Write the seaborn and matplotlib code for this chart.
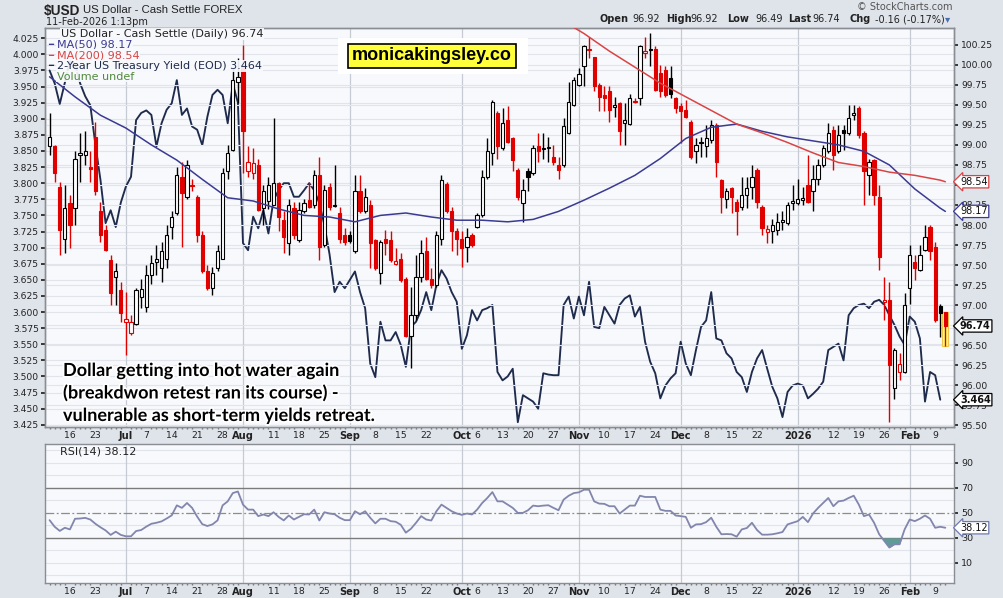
import numpy as np
import pandas as pd
import matplotlib
matplotlib.use("Agg")
import matplotlib.pyplot as plt
import matplotlib.transforms as mtrans
import matplotlib.patheffects as pe
from matplotlib.patches import Rectangle
from matplotlib.ticker import FixedLocator, FormatStrFormatter
import seaborn as sns

# daily bars of $USD (cash settle), 10-Jun-2025 .. 11-Feb-2026
dates = pd.bdate_range("2025-06-10", "2026-02-11")

usd_open = [
    98.98, 98.98, 98.48, 97.83, 98.27, 98.21, 98.88, 98.88, 98.72, 99.10,
    98.17, 97.94, 97.56, 97.35, 97.19, 96.79, 96.65, 96.77, 97.10, 96.98,
    97.38, 97.54, 97.46, 97.58, 97.98, 98.15, 98.60, 98.35, 98.50, 98.35,
    97.88, 97.42, 97.21, 97.46, 97.58, 98.67, 98.94, 99.79, 100.00, 98.67,
    98.65, 98.75, 98.21, 98.30, 98.25, 98.52, 98.06, 97.77, 98.21, 97.81,
    98.17, 98.31, 98.25, 98.62, 97.75, 98.48, 98.24, 98.15, 97.88, 97.88,
    97.67, 98.42, 98.17, 98.25, 97.81, 97.40, 97.83, 97.81, 97.51, 97.58,
    97.33, 96.62, 96.88, 97.35, 97.67, 97.33, 97.25, 97.83, 98.51, 98.17,
    97.92, 97.83, 97.73, 97.88, 97.98, 98.13, 98.60, 98.90, 99.40, 98.96,
    99.31, 99.08, 98.69, 98.27, 98.67, 98.65, 98.98, 98.95, 98.96, 98.85,
    98.75, 98.75, 99.15, 99.50, 99.75, 99.98, 100.18, 100.10, 99.75, 99.62,
    99.67, 99.47, 99.52, 99.27, 99.26, 99.55, 99.58, 100.15, 100.19, 100.20,
    99.90, 99.94, 99.83, 99.58, 99.48, 99.44, 99.29, 98.92, 99.04, 98.98,
    99.06, 99.25, 98.56, 98.33, 98.46, 98.29, 98.23, 98.375, 98.48, 98.69,
    98.23, 97.91, 97.92, 97.94, 98.04, 98.02, 98.27, 98.27, 98.31, 98.50,
    98.42, 98.58, 98.75, 98.92, 99.19, 98.92, 99.19, 99.15, 99.37, 99.46,
    99.15, 98.62, 98.81, 98.35, 97.04, 97.06, 95.96, 96.17, 96.17, 97.21,
    97.54, 97.44, 97.69, 97.98, 97.73, 96.99, 96.92,
]
usd_high = [
    99.40, 99.00, 98.54, 98.50, 98.37, 98.92, 99.15, 99.17, 98.92, 99.29,
    98.29, 98.00, 97.62, 97.52, 97.29, 97.17, 96.88, 97.21, 97.33, 97.50,
    97.62, 97.75, 97.79, 98.00, 98.17, 98.73, 98.79, 98.81, 98.58, 98.37,
    97.92, 97.50, 97.48, 97.75, 98.71, 99.00, 99.96, 100.08, 100.25, 98.98,
    98.96, 98.83, 98.50, 98.60, 99.33, 98.54, 98.17, 98.33, 98.29, 98.29,
    98.33, 98.54, 98.69, 98.85, 98.50, 98.52, 98.75, 98.23, 97.96, 97.92,
    98.62, 98.62, 98.46, 98.31, 97.83, 97.81, 97.94, 97.92, 97.71, 97.65,
    97.35, 97.23, 97.62, 97.81, 97.85, 97.46, 97.92, 98.62, 98.54, 98.23,
    97.96, 97.92, 97.96, 97.90, 98.15, 98.69, 99.08, 99.56, 99.42, 99.46,
    99.48, 99.10, 98.71, 98.58, 98.71, 99.00, 99.15, 99.15, 99.10, 99.00,
    98.85, 99.33, 99.79, 99.85, 99.96, 100.25, 100.35, 100.10, 99.77, 99.73,
    99.73, 99.60, 99.54, 99.52, 99.63, 99.58, 100.25, 100.35, 100.40, 100.23,
    100.00, 99.98, 99.98, 99.60, 99.52, 99.56, 99.31, 99.08, 99.10, 99.25,
    99.31, 99.27, 98.58, 98.46, 98.48, 98.33, 98.60, 98.60, 98.75, 98.71,
    98.25, 98.00, 98.08, 98.15, 98.17, 98.29, 98.50, 98.58, 98.48, 98.88,
    98.75, 98.83, 99.00, 99.27, 99.23, 99.25, 99.25, 99.50, 99.50, 99.48,
    99.17, 98.83, 98.83, 98.50, 97.35, 97.29, 96.46, 96.40, 97.15, 97.75,
    97.62, 97.75, 98.00, 98.00, 97.79, 97.02, 96.92,
]
usd_low = [
    98.88, 98.54, 97.62, 97.65, 97.71, 98.00, 98.54, 98.75, 98.54, 98.37,
    97.79, 97.67, 97.00, 97.00, 96.79, 96.38, 96.63, 96.75, 96.96, 96.92,
    97.27, 97.38, 97.29, 97.46, 97.83, 98.12, 97.73, 98.33, 98.42, 97.79,
    97.40, 97.19, 97.13, 97.42, 97.58, 98.58, 98.92, 99.52, 98.65, 98.60,
    98.58, 98.17, 98.00, 98.20, 98.25, 97.92, 97.65, 97.62, 97.83, 97.79,
    98.15, 98.21, 98.21, 97.56, 97.73, 98.19, 98.23, 97.77, 97.75, 97.77,
    97.65, 98.15, 98.15, 97.46, 97.44, 97.27, 97.62, 97.54, 97.50, 97.29,
    96.60, 96.21, 96.81, 97.29, 97.31, 97.21, 97.23, 97.75, 98.15, 97.67,
    97.62, 97.48, 97.54, 97.73, 97.96, 98.10, 98.58, 98.75, 98.83, 98.94,
    99.02, 98.67, 98.31, 98.04, 98.42, 98.62, 98.79, 98.83, 98.79, 98.75,
    98.58, 98.73, 99.13, 99.48, 99.73, 99.73, 100.08, 99.67, 99.42, 99.42,
    99.29, 99.35, 99.00, 99.00, 99.25, 99.52, 99.50, 100.08, 99.98, 99.67,
    99.60, 99.60, 99.58, 99.40, 99.02, 99.33, 98.83, 98.77, 98.85, 98.85,
    99.02, 98.60, 98.15, 98.21, 98.15, 97.88, 98.19, 98.21, 98.33, 98.21,
    97.88, 97.77, 97.77, 97.87, 97.94, 98.00, 98.19, 98.25, 98.25, 98.27,
    98.17, 98.50, 98.73, 98.90, 98.69, 98.90, 98.94, 99.12, 99.31, 99.08,
    98.25, 98.37, 98.25, 97.44, 96.81, 95.54, 95.83, 96.06, 96.15, 97.02,
    97.31, 97.42, 97.67, 97.56, 96.79, 96.60, 96.49,
]
usd_close = [
    99.10, 98.65, 97.94, 98.21, 98.00, 98.83, 98.90, 98.92, 98.70, 98.42,
    97.87, 97.69, 97.15, 97.42, 96.90, 96.83, 96.79, 97.19, 97.20, 97.38,
    97.52, 97.57, 97.67, 97.88, 98.10, 98.62, 98.40, 98.75, 98.49, 97.88,
    97.42, 97.21, 97.40, 97.67, 98.65, 98.90, 99.81, 99.85, 99.17, 98.79,
    98.78, 98.19, 98.42, 98.50, 98.52, 98.10, 97.85, 98.25, 97.88, 98.19,
    98.27, 98.23, 98.62, 97.73, 98.44, 98.23, 98.25, 97.83, 97.79, 97.80,
    98.42, 98.17, 98.35, 97.77, 97.46, 97.79, 97.78, 97.56, 97.55, 97.31,
    96.62, 96.88, 97.35, 97.65, 97.33, 97.25, 97.88, 98.56, 98.17, 97.92,
    97.83, 97.71, 97.85, 97.75, 98.13, 98.60, 98.92, 99.54, 98.98, 99.27,
    99.04, 98.81, 98.35, 98.44, 98.60, 98.96, 98.92, 98.96, 98.97, 98.79,
    98.69, 99.23, 99.54, 99.81, 99.88, 100.23, 100.20, 99.73, 99.60, 99.58,
    99.44, 99.50, 99.17, 99.31, 99.58, 99.54, 100.23, 100.17, 100.18, 99.69,
    99.67, 99.62, 99.64, 99.46, 99.42, 99.35, 98.85, 99.00, 99.02, 99.08,
    99.25, 98.79, 98.35, 98.42, 98.35, 98.17, 98.375, 98.46, 98.60, 98.29,
    97.96, 97.95, 98.00, 98.04, 98.06, 98.25, 98.30, 98.33, 98.34, 98.29,
    98.58, 98.75, 98.96, 99.15, 98.88, 99.12, 99.15, 99.33, 99.40, 99.12,
    98.67, 98.79, 98.37, 97.60, 97.06, 96.25, 96.44, 96.27, 97.00, 97.62,
    97.46, 97.62, 97.85, 97.67, 96.81, 96.90, 96.74,
]
# 2-year treasury yield (EOD), no print yet for the last session
yield_2y = [
    3.975, 3.955, 3.923, 3.956, 3.990, 3.985, 3.955, 3.935, 3.921, 3.860,
    3.805, 3.738, 3.758, 3.732, 3.770, 3.795, 3.810, 3.898, 3.909, 3.913,
    3.906, 3.857, 3.893, 3.914, 3.924, 3.960, 3.906, 3.916, 3.888, 3.883,
    3.859, 3.903, 3.937, 3.945, 3.937, 3.893, 3.955, 3.925, 3.707, 3.696,
    3.748, 3.730, 3.758, 3.722, 3.774, 3.789, 3.800, 3.800, 3.779, 3.779,
    3.789, 3.800, 3.789, 3.769, 3.735, 3.690, 3.631, 3.647, 3.637, 3.650,
    3.663, 3.631, 3.606, 3.520, 3.499, 3.585, 3.556, 3.556, 3.569, 3.549,
    3.515, 3.577, 3.585, 3.603, 3.631, 3.603, 3.642, 3.665, 3.652, 3.631,
    3.616, 3.543, 3.564, 3.603, 3.587, 3.603, 3.606, 3.611, 3.507, 3.494,
    3.500, 3.512, 3.429, 3.471, 3.466, 3.461, 3.450, 3.505, 3.503, 3.502,
    3.502, 3.611, 3.624, 3.590, 3.624, 3.595, 3.647, 3.577, 3.575, 3.608,
    3.595, 3.582, 3.611, 3.621, 3.626, 3.593, 3.608, 3.554, 3.523, 3.505,
    3.466, 3.486, 3.497, 3.505, 3.554, 3.520, 3.502, 3.541, 3.577, 3.587,
    3.631, 3.559, 3.556, 3.536, 3.528, 3.507, 3.499, 3.476, 3.507, 3.528,
    3.541, 3.512, 3.484, 3.466, 3.437, 3.476, 3.486, 3.489, 3.486, 3.466,
    3.473, 3.481, 3.492, 3.541, 3.546, 3.551, 3.525, 3.595, 3.606, 3.611,
    3.613, 3.606, 3.616, 3.619, 3.611, 3.595, 3.580, 3.562, 3.549, 3.593,
    3.585, 3.559, 3.461, 3.507, 3.502, 3.464, np.nan,
]
# moving averages read once a week (every 5th bar) plus the last bar
ma50 = [
    99.85, 99.60, 99.37, 99.21, 99.00, 98.81, 98.57, 98.34, 98.30, 98.20,
    98.12, 98.10, 98.04, 98.12, 98.15, 98.10, 98.06, 98.06, 98.04, 98.07,
    98.17, 98.31, 98.46, 98.62, 98.83, 99.08, 99.22, 99.26, 99.17, 99.10,
    99.05, 99.00, 98.92, 98.75, 98.45, 98.21, 98.17,
]
ma200 = [
    np.nan, np.nan, np.nan, np.nan, np.nan, np.nan, np.nan, np.nan, np.nan, np.nan,
    np.nan, np.nan, np.nan, np.nan, np.nan, np.nan, np.nan, np.nan, np.nan, 100.78,
    100.58, 100.39, 100.17, 99.97, 99.77, 99.60, 99.43, 99.26, 99.15, 99.03,
    98.90, 98.78, 98.73, 98.66, 98.62, 98.56, 98.54,
]
rsi14 = [
    44.2, 38.9, 35.6, 38.1, 36.8, 45.3, 45.5, 46.0, 44.7, 41.3,
    38.5, 36.0, 32.4, 35.0, 32.4, 31.3, 31.3, 35.5, 36.3, 39.0,
    41.3, 42.1, 43.2, 45.5, 48.0, 56.0, 54.0, 57.9, 54.0, 47.0,
    41.0, 39.5, 40.8, 44.0, 56.0, 59.2, 65.8, 67.1, 56.6, 52.6,
    52.6, 47.4, 48.7, 47.4, 50.5, 46.8, 44.0, 47.9, 44.7, 46.8,
    48.9, 48.7, 52.6, 43.9, 50.5, 49.5, 48.9, 46.1, 44.2, 44.2,
    51.3, 48.9, 51.3, 46.1, 41.6, 45.3, 45.3, 43.4, 42.9, 40.5,
    34.2, 37.3, 42.1, 47.4, 44.7, 43.9, 51.3, 56.6, 54.0, 51.3,
    49.5, 48.4, 49.5, 48.7, 52.6, 57.9, 61.9, 66.6, 59.2, 59.2,
    56.6, 54.0, 50.0, 50.0, 52.1, 55.8, 55.3, 55.8, 56.1, 54.0,
    52.1, 60.6, 63.7, 65.8, 66.4, 68.5, 68.5, 59.2, 57.4, 57.2,
    55.3, 55.3, 49.5, 52.6, 55.8, 55.8, 63.7, 62.7, 62.7, 62.7,
    52.6, 51.6, 51.6, 47.9, 47.4, 46.8, 38.1, 40.8, 41.0, 42.6,
    46.1, 38.9, 32.9, 33.1, 32.9, 31.0, 36.8, 37.9, 42.1, 36.3,
    32.6, 32.6, 32.9, 33.7, 34.7, 40.8, 42.1, 43.4, 46.8, 42.6,
    49.5, 54.0, 57.9, 61.9, 55.3, 59.2, 59.8, 61.9, 63.7, 56.6,
    47.4, 48.7, 42.1, 32.9, 27.6, 22.3, 24.9, 24.9, 36.8, 44.7,
    43.4, 45.3, 47.9, 45.3, 38.1, 38.9, 38.12,
]

n = len(dates)
for arr in (usd_open, usd_high, usd_low, usd_close, yield_2y, rsi14):
    assert len(arr) == n, len(arr)

xi = np.arange(n)
o = np.array(usd_open)
hi = np.array(usd_high)
lo = np.array(usd_low)
c = np.array(usd_close)
y2 = np.array(yield_2y, dtype=float)
rsi = np.array(rsi14)
ma_x = np.r_[xi[::5], xi[-1]]
last_yield = y2[~np.isnan(y2)][-1]

prev = np.r_[o[0], c[:-1]]
edge = np.where(c >= prev, "#000000", "#e00000")
body = np.where(c > o, "#ffffff", edge)

NAVY = "#1f2b4d"
MA50_C = "#3a3a92"
MA200_C = "#d94444"
GRID = "#e1e4ea"
MONTH_GRID = "#c6cad3"
PANEL = "#f8f9fc"
SPINE = "#8a8d94"
TXT = "#222222"

W, H = 1004, 598
def fx(px):
    return px / W
def fy(py):
    return 1 - py / H

sns.set_theme(style="white")
plt.rcParams["font.family"] = ["DejaVu Sans"]

fig = plt.figure(figsize=(W / 100, H / 100), dpi=100, facecolor="#dfe3ea")
ax = fig.add_axes([fx(45), fy(427), 909 / W, (427 - 28) / H])
axd = ax.twinx()
axr = fig.add_axes([fx(45), fy(583), 909 / W, (583 - 444) / H])
ax.set_facecolor(PANEL)
axr.set_facecolor(PANEL)

# month starts and weekly (Monday) labels
month_first = [k for k in range(1, n) if dates[k].month != dates[k - 1].month]
mondays = [k for k in range(n) if dates[k].weekday() == 0
           and all(not (-3 <= k - m <= 2) for m in month_first)]
tick_pos = sorted(month_first + mondays)
tick_lab, tick_bold = [], []
for k in tick_pos:
    if k in month_first:
        tick_lab.append(str(dates[k].year) if dates[k].month == 1 else dates[k].strftime("%b"))
        tick_bold.append(True)
    else:
        tick_lab.append(str(dates[k].day))
        tick_bold.append(False)

# ---- main panel: yield (left scale) ----
for k in month_first:
    ax.axvline(k, color=MONTH_GRID, lw=0.9, zorder=0.6)
ax.grid(axis="y", color=GRID, lw=0.8)
ax.set_axisbelow(True)
sns.lineplot(x=xi, y=y2, ax=ax, color=NAVY, lw=1.35, zorder=3)
ax.set_ylim(3.4216, 4.0409)
ax.yaxis.set_major_locator(FixedLocator(np.round(np.arange(3.425, 4.0251, 0.025), 3)))
ax.yaxis.set_major_formatter(FormatStrFormatter("%.3f"))
ax.tick_params(axis="y", labelsize=6.6, length=3, pad=1.5, colors=TXT, left=True)
ax.set_ylabel("")

# ---- main panel: dollar candles (right scale) ----
axd.grid(axis="y", color=GRID, lw=0.8)
axd.set_axisbelow(True)
axd.bar(xi[-1], hi[-1] - lo[-1], bottom=lo[-1], width=1.15, color="#ffff70",
        edgecolor="#f0c64a", lw=0.8, zorder=1.5)
axd.vlines(xi, lo, hi, colors=edge, lw=1.0, zorder=2)
axd.bar(xi, np.maximum(np.abs(c - o), 0.012), bottom=np.minimum(o, c), width=0.64,
        color=body, edgecolor=edge, lw=0.8, zorder=3)
sns.lineplot(x=ma_x, y=ma50, ax=axd, color=MA50_C, lw=1.1, zorder=4)
sns.lineplot(x=ma_x, y=ma200, ax=axd, color=MA200_C, lw=1.1, zorder=4)
axd.set_ylim(95.479, 100.459)
axd.yaxis.set_major_locator(FixedLocator(np.round(np.arange(95.5, 100.26, 0.25), 2)))
axd.yaxis.set_major_formatter(FormatStrFormatter("%.2f"))
axd.tick_params(axis="y", labelsize=6.6, length=3, pad=2, colors=TXT, right=True)
axd.set_ylabel("")

# ---- RSI panel ----
for v in range(0, 101, 10):
    if v not in (30, 50, 70):
        axr.axhline(v, color=GRID, lw=0.8, zorder=0.5)
for k in month_first:
    axr.axvline(k, color=MONTH_GRID, lw=0.9, zorder=0.6)
axr.axhline(70, color="#7b7b7b", lw=1.0, zorder=1)
axr.axhline(30, color="#7b7b7b", lw=1.0, zorder=1)
axr.axhline(50, color="#8c8c8c", lw=0.9, ls=(0, (7, 2, 1.5, 2)), zorder=1)
axr.fill_between(xi, rsi, 30, where=rsi < 30, interpolate=True, color="#5d9c98", lw=0, zorder=2)
sns.lineplot(x=xi, y=rsi, ax=axr, color="#8286ad", lw=1.3, zorder=3)
axr.set_ylim(-6, 105)
axr.yaxis.tick_right()
axr.set_yticks([10, 30, 50, 70, 90])
axr.tick_params(axis="y", labelsize=6.8, length=3, pad=2, colors=TXT)
axr.set_ylabel("")

for a in (ax, axr):
    a.set_xlim(-0.9, 177.7)
    a.set_xticks(tick_pos)
    a.set_xticklabels(tick_lab)
    a.set_xticks(xi, minor=True)
    a.tick_params(axis="x", which="major", length=2, pad=1, labelsize=6.7, colors=TXT)
    a.tick_params(axis="x", which="minor", length=1.5, color="#777777", bottom=True)
    for t, bold in zip(a.get_xticklabels(), tick_bold):
        if bold:
            t.set_fontweight("bold")
            t.set_fontsize(7.1)
    a.set_xlabel("")
for a in (ax, axd, axr):
    for s in a.spines.values():
        s.set_color(SPINE)
        s.set_linewidth(1.0)

# ---- texts ----
def T(px, py, s, **kw):
    kw.setdefault("va", "center")
    kw.setdefault("ha", "left")
    kw.setdefault("color", TXT)
    return fig.text(fx(px), fy(py), s, **kw)

T(44, 10.5, "$USD", fontsize=9.8, fontweight="bold", family=["Liberation Sans", "DejaVu Sans"])
T(83, 10, "US Dollar - Cash Settle FOREX", fontsize=8.2, family=["Liberation Sans", "DejaVu Sans"])
T(46, 22, "11-Feb-2026 1:13pm", fontsize=7)
T(953, 6.5, "\u00a9 StockCharts.com", fontsize=7, color="#555555", ha="right")

chg = c[-1] - c[-2]
pct = chg / c[-2] * 100
hdr = [(600, "Open", True), (632.5, f"{o[-1]:.2f}", False),
       (666, "High", True), (690.5, f"{hi[-1]:.2f}", False),
       (727, "Low", True), (755, f"{lo[-1]:.2f}", False),
       (788, "Last", True), (812.5, f"{c[-1]:.2f}", False),
       (850, "Chg", True), (875, f"{chg:.2f} ({pct:.2f}%)", False)]
for px, s, b in hdr:
    T(px, 19, s, fontsize=7.0, fontweight="bold" if b else "normal")
T(945, 19, "\u25be", fontsize=7.5, color="#4a6fb0")

leg_box = dict(facecolor=PANEL, edgecolor="none", pad=0.5, alpha=0.92)
LF = 8.0
T(61, 34, f"US Dollar - Cash Settle (Daily) {c[-1]:.2f}", fontsize=LF, bbox=leg_box)
T(48, 44.5, "\u2501", fontsize=6, color=MA50_C)
T(57, 44.5, f"MA(50) {ma50[-1]:.2f}", fontsize=LF, color=MA50_C, bbox=leg_box)
T(48, 55, "\u2501", fontsize=6, color=MA200_C)
T(57, 55, f"MA(200) {ma200[-1]:.2f}", fontsize=LF, color=MA200_C, bbox=leg_box)
T(48, 66, "\u2501", fontsize=6, color=NAVY)
T(57, 66, f"2-Year US Treasury Yield (EOD) {last_yield:.3f}", fontsize=LF, color=NAVY, bbox=leg_box)
T(57, 76.5, "Volume undef", fontsize=LF, color="#4f8a3c", bbox=leg_box)
T(60, 451, f"RSI(14) {rsi[-1]:.2f}", fontsize=LF)

fig.patches.append(Rectangle((fx(338), fy(74)), 190 / W, 36 / H, transform=fig.transFigure,
                             facecolor="white", edgecolor="none", zorder=5))
T(432, 56, "monicakingsley.co", fontsize=13, fontweight="bold", ha="center",
  family=["Liberation Sans", "DejaVu Sans"], color="black", zorder=6,
  bbox=dict(boxstyle="square,pad=0.2", facecolor="#ffff3c", edgecolor="black", lw=1.2))

note = ["Dollar getting into hot water again",
        "(breakdwon retest ran its course) -",
        "vulnerable as short-term yields retreat."]
for line, base in zip(note, (376, 398.5, 421)):
    T(63, base, line, va="baseline", fontsize=13, fontweight="bold", color="black",
      family=["Lato", "DejaVu Sans"],
      path_effects=[pe.withStroke(linewidth=2.5, foreground="white")])

def tag(axis, val, s, ec, bold=False):
    tr = mtrans.blended_transform_factory(fig.transFigure, axis.transData)
    fig.text(fx(960), val, s, transform=tr, ha="left", va="center", fontsize=7,
             fontweight="bold" if bold else "normal", color="#111111", zorder=10,
             bbox=dict(boxstyle="larrow,pad=0.12", facecolor="white", edgecolor=ec, lw=0.9))

tag(axd, ma200[-1], f"{ma200[-1]:.2f}", MA200_C)
tag(axd, ma50[-1], f"{ma50[-1]:.2f}", MA50_C)
tag(axd, c[-1], f"{c[-1]:.2f}", "black", True)
tag(ax, last_yield, f"{last_yield:.3f}", "black", True)
tag(axr, rsi[-1], f"{rsi[-1]:.2f}", "#6d7bb0")

fig.savefig("out.png", dpi=100, facecolor=fig.get_facecolor())
